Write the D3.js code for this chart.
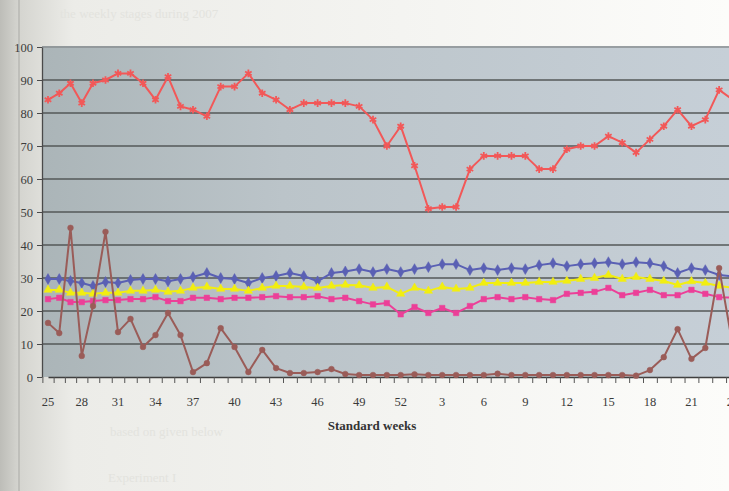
<!DOCTYPE html>
<html>
<head>
<meta charset="utf-8">
<script src="https://cdn.jsdelivr.net/npm/d3@7"></script>
<style>
  body { margin: 0; background: #fafaf7; }
  svg { display: block; }
</style>
</head>
<body>
<div id="chart"></div>
<script>
// standard weeks, season runs from week 25 to week 24 of the next year
const weeks = [25, 26, 27, 28, 29, 30, 31, 32, 33, 34, 35, 36, 37, 38, 39, 40, 41, 42, 43, 44, 45, 46, 47, 48, 49, 50, 51, 52,
               1, 2, 3, 4, 5, 6, 7, 8, 9, 10, 11, 12, 13, 14, 15, 16, 17, 18, 19, 20, 21, 22, 23, 24];
const yTicks = [0, 10, 20, 30, 40, 50, 60, 70, 80, 90, 100];

const redSeries = [84, 86, 89, 83, 89, 90, 92, 92, 89, 84, 91, 82, 81, 79, 88, 88, 92, 86, 84, 81, 83, 83, 83, 83, 82, 78,
                   70, 76, 64, 51, 51.5, 51.5, 63, 67, 67, 67, 67, 63, 63, 69, 70, 70, 73, 71, 68, 72, 76, 81, 76, 78, 87, 84];
const blueSeries = [29.7, 29.7, 29.1, 28.5, 27.6, 28.8, 28.5, 29.4, 29.7, 29.7, 29, 29.7, 30.3, 31.5, 30, 29.7, 28.5, 30,
                    30.6, 31.5, 30.6, 29, 31.5, 32, 32.7, 31.8, 32.7, 31.8, 32.7, 33.3, 34.2, 34.2, 32.4, 33, 32.4, 33,
                    32.7, 33.9, 34.5, 33.6, 34.2, 34.5, 34.8, 34.2, 34.8, 34.5, 33.6, 31.5, 33, 32.4, 30.9, 30.5];
const yellowSeries = [26.4, 26.4, 25.5, 25.5, 25.2, 25.5, 25.5, 26.1, 26.1, 26.4, 25.8, 26.1, 27, 27.3, 26.7, 26.7, 26.1,
                      27, 27.6, 27.6, 27.3, 27, 27.6, 27.9, 27.8, 27, 27.3, 25.2, 27, 26.1, 27.3, 26.7, 27, 28.5, 28.5,
                      28.5, 28.5, 28.8, 28.8, 29.1, 29.7, 30, 30.9, 29.7, 30.3, 29.7, 29.1, 27.9, 29, 28.5, 27.6, 27];
const pinkSeries = [23.6, 24, 22.7, 22.7, 23, 23.3, 23.3, 23.6, 23.6, 24.2, 23, 23, 24, 24, 23.6, 24, 24, 24.2, 24.5, 24.2,
                    24.2, 24.5, 23.6, 24, 23, 22, 22.4, 19, 21.2, 19.4, 20.9, 19.4, 21.5, 23.6, 24.2, 23.6, 24.2, 23.6,
                    23.3, 25.2, 25.5, 25.8, 27, 24.8, 25.5, 26.4, 24.8, 24.8, 26.4, 25.2, 24.2, 24];
const brownSeries = [16.4, 13.3, 45.2, 6.4, 21.5, 44, 13.6, 17.6, 9.1, 12.7, 19.4, 12.7, 1.5, 4.2, 14.8, 9.1, 1.5, 8.2,
                     2.7, 1.2, 1.2, 1.5, 2.4, 0.9, 0.6, 0.6, 0.6, 0.6, 0.8, 0.6, 0.6, 0.6, 0.6, 0.6, 1, 0.6, 0.6, 0.6,
                     0.6, 0.6, 0.6, 0.6, 0.6, 0.6, 0.4, 2.1, 6, 14.5, 5.5, 8.8, 33, 9];

const width = 729, height = 491;
const plotLeft = 42, plotTop = 46, plotBottom = 377;

const svg = d3.select("#chart").append("svg")
    .attr("width", width)
    .attr("height", height);

const defs = svg.append("defs");

// paper: grey strip on the left, lighter to the right
const paper = defs.append("linearGradient").attr("id", "paper");
paper.append("stop").attr("offset", "0%").attr("stop-color", "#bdbdb8");
paper.append("stop").attr("offset", "2.5%").attr("stop-color", "#d4d4cf");
paper.append("stop").attr("offset", "10%").attr("stop-color", "#ececE8");
paper.append("stop").attr("offset", "100%").attr("stop-color", "#fcfcfa");

const plotBg = defs.append("linearGradient").attr("id", "plotbg");
plotBg.append("stop").attr("offset", "0%").attr("stop-color", "#abb5b8");
plotBg.append("stop").attr("offset", "35%").attr("stop-color", "#bbc4c9");
plotBg.append("stop").attr("offset", "100%").attr("stop-color", "#c6cfd7");

svg.append("rect").attr("width", width).attr("height", height).attr("fill", "url(#paper)");
svg.append("line").attr("x1", 19).attr("x2", 19).attr("y1", 0).attr("y2", height)
    .attr("stroke", "#a9a9a4").attr("stroke-width", 1);

// faint print-through from the other side of the page
const ghost = svg.append("g")
    .style("font-family", "'Liberation Serif', 'DejaVu Serif', serif")
    .style("font-size", "13px")
    .attr("fill", "#e3e3de");
ghost.append("text").attr("x", 60).attr("y", 18).text("the weekly stages during 2007");
ghost.append("text").attr("x", 110).attr("y", 436).text("based on given below");
ghost.append("text").attr("x", 108).attr("y", 482).text("Experiment I");

const x = d3.scaleLinear()
    .domain([0, 4, 12, weeks.length - 1])
    .range([48, 93, 193, 733]);

const y = d3.scaleLinear()
    .domain([0, 100])
    .range([plotBottom, plotTop + 1]);

svg.append("rect")
    .attr("x", plotLeft).attr("y", plotTop)
    .attr("width", width - plotLeft).attr("height", plotBottom - plotTop)
    .attr("fill", "url(#plotbg)");

// gridlines
svg.append("g")
    .selectAll("line")
    .data(yTicks.filter(d => d > 0))
    .join("line")
    .attr("x1", plotLeft).attr("x2", width)
    .attr("y1", d => y(d)).attr("y2", d => y(d))
    .attr("stroke", d => d === 100 ? "#8a8f92" : "#545859")
    .attr("stroke-width", 1.3);

const serif = "'Liberation Serif', 'DejaVu Serif', serif";

const yAxis = svg.append("g")
    .attr("transform", `translate(${plotLeft},0)`)
    .call(d3.axisLeft(y).tickValues(yTicks).tickSize(5).tickSizeOuter(0).tickPadding(4));
yAxis.select(".domain").attr("stroke", "#4a4a4a").attr("stroke-width", 1.3);
yAxis.selectAll(".tick line").attr("stroke", "#4a4a4a");
yAxis.selectAll(".tick text")
    .style("font-family", serif).style("font-size", "12.5px").attr("fill", "#3c3c3c");

const xAxis = svg.append("g")
    .attr("transform", `translate(0,${plotBottom})`)
    .call(d3.axisBottom(x)
        .tickValues(d3.range(-0.5, weeks.length, 1))
        .tickFormat("")
        .tickSize(6)
        .tickSizeOuter(0));
xAxis.select(".domain").attr("stroke", "#3f3f3f").attr("stroke-width", 1.5);
xAxis.selectAll(".tick line").attr("stroke", "#555");

svg.append("g")
    .selectAll("text")
    .data(weeks.map((w, i) => ({ w, i })).filter(d => d.i % 3 === 0))
    .join("text")
    .attr("x", d => x(d.i))
    .attr("y", 406)
    .attr("text-anchor", "middle")
    .style("font-family", serif)
    .style("font-size", "12.5px")
    .attr("fill", "#3a3a3a")
    .text(d => d.w);

svg.append("text")
    .attr("x", 372).attr("y", 430)
    .attr("text-anchor", "middle")
    .style("font-family", serif)
    .style("font-size", "13px")
    .style("font-weight", "bold")
    .attr("fill", "#333")
    .text("Standard weeks");

const line = d3.line().x((d, i) => x(i)).y(d => y(d));

const series = [
    { values: blueSeries, color: "#5a60b4", symbol: d3.symbolDiamond, size: 34, stroke: false },
    { values: yellowSeries, color: "#f2ee10", symbol: d3.symbolTriangle, size: 30, stroke: false },
    { values: pinkSeries, color: "#ec3f98", symbol: d3.symbolSquare, size: 30, stroke: false },
    { values: redSeries, color: "#f25858", symbol: d3.symbolAsterisk || d3.symbolCross, size: 40, stroke: true },
    { values: brownSeries, color: "#9a5c58", symbol: d3.symbolCircle, size: 26, stroke: false }
];

series.forEach(s => {
    const g = svg.append("g");
    g.append("path")
        .datum(s.values)
        .attr("fill", "none")
        .attr("stroke", s.color)
        .attr("stroke-width", 2)
        .attr("stroke-linejoin", "round")
        .attr("d", line);
    g.selectAll("path.mark")
        .data(s.values)
        .join("path")
        .attr("class", "mark")
        .attr("transform", (d, i) => `translate(${x(i)},${y(d)})`)
        .attr("d", d3.symbol(s.symbol, s.size))
        .attr("fill", s.stroke ? "none" : s.color)
        .attr("stroke", s.color)
        .attr("stroke-width", s.stroke ? 1.8 : 0.5);
});
</script>
</body>
</html>
